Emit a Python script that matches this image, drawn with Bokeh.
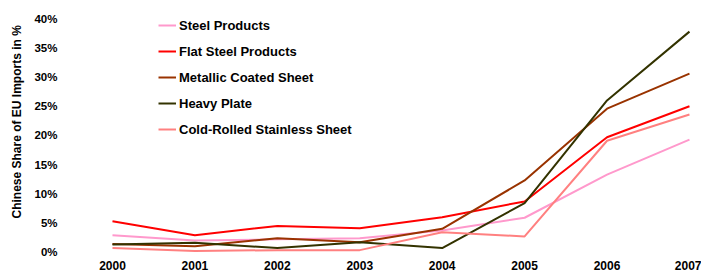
from bokeh.plotting import figure
from bokeh.models import Range1d, FixedTicker, PrintfTickFormatter, Legend, LegendItem, Title
from bokeh.embed import file_html
from bokeh.resources import INLINE

years = [2000, 2001, 2002, 2003, 2004, 2005, 2006, 2007]
year_labels = ["2000", "2001", "2002", "2003", "2004", "2005", "2006", "2007"]

steel_products = [2.9, 2.0, 2.2, 2.4, 3.7, 5.9, 13.3, 19.3]
flat_steel = [5.3, 2.9, 4.5, 4.1, 6.0, 8.7, 19.7, 25.0]
metallic_coated = [1.4, 1.0, 2.4, 1.7, 4.0, 12.3, 24.6, 30.6]
heavy_plate = [1.3, 1.6, 0.7, 1.7, 0.7, 8.4, 26.0, 37.8]
cold_rolled = [0.7, 0.2, 0.35, 0.35, 3.4, 2.7, 19.1, 23.6]

series_names = ["Steel Products", "Flat Steel Products", "Metallic Coated Sheet",
                "Heavy Plate", "Cold-Rolled Stainless Sheet"]
series_values = [steel_products, flat_steel, metallic_coated, heavy_plate, cold_rolled]
series_colors = ["#FF99CC", "#FF0000", "#993300", "#333300", "#FF8080"]

y_ticks = [0, 5, 10, 15, 20, 25, 30, 35, 40]

p = figure(width=701, height=275, output_backend="svg", toolbar_location=None,
           x_range=Range1d(1999.43, 2007.146), y_range=Range1d(-0.74, 41.42),
           min_border_left=65, min_border_right=0, min_border_top=10, min_border_bottom=19)
p.outline_line_color = None
p.xgrid.visible = False
p.ygrid.visible = False
p.background_fill_color = "white"

FONT = "Liberation Sans"

items = []
for name, vals, col in zip(series_names, series_values, series_colors):
    r = p.line(years, vals, line_color=col, line_width=2)
    items.append(LegendItem(label=name, renderers=[r]))

legend = Legend(items=items, location=(93, 117))
legend.padding = 0
legend.margin = 0
legend.border_line_color = None
legend.background_fill_alpha = 0
legend.label_text_font = FONT
legend.label_text_font_style = "bold"
legend.label_text_font_size = "13px"
legend.label_text_color = "black"
legend.glyph_width = 18
legend.glyph_height = 20
legend.label_height = 20
legend.label_standoff = 3
legend.spacing = 6
p.add_layout(legend, "center")

xa = p.xaxis[0]
xa.ticker = FixedTicker(ticks=years)
xa.major_label_overrides = {y: l for y, l in zip(years, year_labels)}
xa.axis_line_color = None
xa.major_tick_line_color = None
xa.minor_tick_line_color = None
xa.major_tick_out = 0
xa.major_label_text_font = FONT
xa.major_label_text_font_style = "bold"
xa.major_label_text_font_size = "12px"
xa.major_label_text_color = "black"
xa.major_label_standoff = 4

ya = p.yaxis[0]
ya.ticker = FixedTicker(ticks=y_ticks)
ya.formatter = PrintfTickFormatter(format="%d%%")
ya.axis_line_color = None
ya.major_tick_line_color = None
ya.minor_tick_line_color = None
ya.major_tick_out = 0
ya.major_label_text_font = FONT
ya.major_label_text_font_style = "bold"
ya.major_label_text_font_size = "11.5px"
ya.major_label_text_color = "black"
ya.major_label_standoff = 8

ytitle = Title(text="Chinese Share of EU Imports in %", align="left", offset=38,
               text_font=FONT, text_font_style="bold", text_font_size="12px",
               text_color="black", standoff=15)
p.add_layout(ytitle, "left")

open("out.html", "w").write(file_html(p, INLINE))
